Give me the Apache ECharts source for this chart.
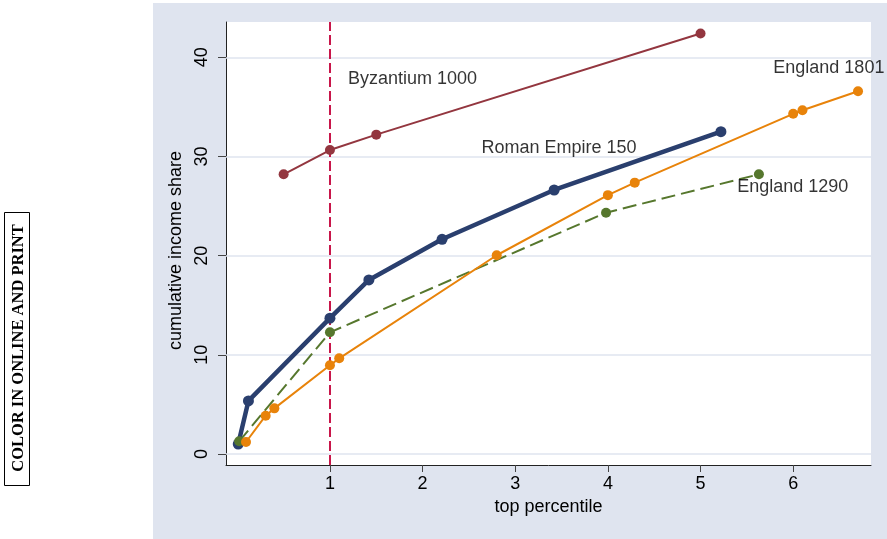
<!DOCTYPE html>
<html>
<head>
<meta charset="utf-8">
<script src="https://cdn.jsdelivr.net/npm/echarts@6/dist/echarts.min.js"></script>
<style>
  html, body { margin: 0; padding: 0; background: #fff; }
  #chart { width: 887px; height: 539px; }
</style>
</head>
<body>
<div id="chart"></div>
<script>
// top percentile (x) vs cumulative income share (y)
const byzantiumX = [0.5, 1, 1.5, 5]
const byzantiumY = [28.2, 30.65, 32.2, 42.4]

const romanX = [0.01, 0.12, 1, 1.42, 2.21, 3.42, 5.22]
const romanY = [1.0, 5.35, 13.7, 17.55, 21.65, 26.62, 32.5]

const england1290X = [0.02, 1, 3.98, 5.63]
const england1290Y = [1.28, 12.27, 24.33, 28.2]

const england1801X = [0.094, 0.306, 0.4, 1, 1.1, 2.8, 4.0, 4.29, 6.0, 6.1, 6.7]
const england1801Y = [1.21, 3.86, 4.6, 8.94, 9.65, 20.04, 26.1, 27.36, 34.3, 34.66, 36.57]

const xTicks = [1, 2, 3, 4, 5, 6]
const yTicks = [0, 10, 20, 30, 40]
const refLineX = 1

const labelNames = ['Byzantium 1000', 'Roman Empire 150', 'England 1801', 'England 1290']
const labelX = [1.19, 2.63, 5.78, 5.39]
const labelY = [37.8, 30.85, 38.95, 26.9]

const FONT = '"Liberation Sans", Arial, sans-serif'
const bluish = '#dfe4ef'

const pairs = (xs, ys) => xs.map((x, i) => [x, ys[i]])

const chart = echarts.init(document.getElementById('chart'), null, { renderer: 'canvas' })

const lineSeries = (name, xs, ys, color, width, size, type) => ({
  name,
  type: 'line',
  data: pairs(xs, ys),
  z: 3,
  symbol: 'circle',
  symbolSize: size,
  showSymbol: true,
  lineStyle: { color, width, type },
  itemStyle: { color },
  emphasis: { disabled: true }
})

chart.setOption({
  animation: false,
  backgroundColor: '#fff',
  graphic: [
    {
      type: 'rect',
      z: -5,
      shape: { x: 153, y: 3, width: 734, height: 536 },
      style: { fill: bluish }
    },
    {
      type: 'rect',
      shape: { x: 4.5, y: 212.5, width: 25, height: 273 },
      style: { fill: 'none', stroke: '#000', lineWidth: 1 }
    },
    {
      type: 'text',
      x: 18.5,
      y: 348,
      rotation: Math.PI / 2,
      style: {
        text: 'COLOR IN ONLINE AND PRINT',
        font: 'bold 16.5px "Liberation Serif", "Times New Roman", serif',
        fill: '#000',
        align: 'center',
        verticalAlign: 'middle'
      }
    }
  ],
  grid: {
    left: 226,
    top: 22,
    right: 16,
    bottom: 74,
    show: true,
    backgroundColor: '#fff',
    borderWidth: 0
  },
  xAxis: {
    type: 'value',
    min: -0.122,
    max: 6.84,
    name: 'top percentile',
    nameLocation: 'middle',
    nameGap: 29,
    nameTextStyle: { fontFamily: FONT, fontSize: 18, color: '#000' },
    axisLine: { show: true, onZero: false, lineStyle: { color: '#222', width: 1 } },
    axisTick: { show: true, length: 7, customValues: xTicks, lineStyle: { color: '#444' } },
    axisLabel: { customValues: xTicks, margin: 10, fontFamily: FONT, fontSize: 18, color: '#000' },
    splitLine: { show: false }
  },
  yAxis: {
    type: 'value',
    min: -1.11,
    max: 43.56,
    name: 'cumulative income share',
    nameLocation: 'middle',
    nameGap: 37,
    nameTextStyle: { fontFamily: FONT, fontSize: 18, color: '#000', padding: [0, 14, 0, 0] },
    axisLine: { show: true, onZero: false, lineStyle: { color: '#222', width: 1 } },
    axisTick: { show: true, length: 8, customValues: yTicks, lineStyle: { color: '#444' } },
    axisLabel: { customValues: yTicks, rotate: 90, margin: 15, fontFamily: FONT, fontSize: 18, color: '#000' },
    splitLine: { show: false }
  },
  series: [
    {
      name: 'grid',
      type: 'line',
      data: [],
      silent: true,
      markLine: {
        silent: true,
        z: 1,
        symbol: 'none',
        label: { show: false },
        lineStyle: { color: bluish, width: 1.5, type: 'solid' },
        data: yTicks.map((v) => ({ yAxis: v }))
      }
    },
    {
      name: 'ref',
      type: 'line',
      data: [],
      silent: true,
      markLine: {
        silent: true,
        z: 2,
        symbol: 'none',
        label: { show: false },
        lineStyle: { color: '#c8164a', width: 2, type: [10, 4] },
        data: [{ xAxis: refLineX }]
      }
    },
    lineSeries('Byzantium 1000', byzantiumX, byzantiumY, '#93363f', 2, 10, 'solid'),
    lineSeries('Roman Empire 150', romanX, romanY, '#2a3f6e', 4.5, 11, 'solid'),
    lineSeries('England 1290', england1290X, england1290Y, '#56772d', 2, 10, [14, 6]),
    lineSeries('England 1801', england1801X, england1801Y, '#e8830a', 2, 10, 'solid'),
    {
      name: 'labels',
      type: 'scatter',
      z: 4,
      silent: true,
      symbolSize: 1,
      itemStyle: { color: 'rgba(0,0,0,0)' },
      data: labelX.map((x, i) => ({ name: labelNames[i], value: [x, labelY[i]] })),
      label: {
        show: true,
        formatter: '{b}',
        position: 'right',
        distance: 0,
        fontFamily: FONT,
        fontSize: 18,
        color: '#000'
      }
    }
  ]
})
</script>
</body>
</html>
